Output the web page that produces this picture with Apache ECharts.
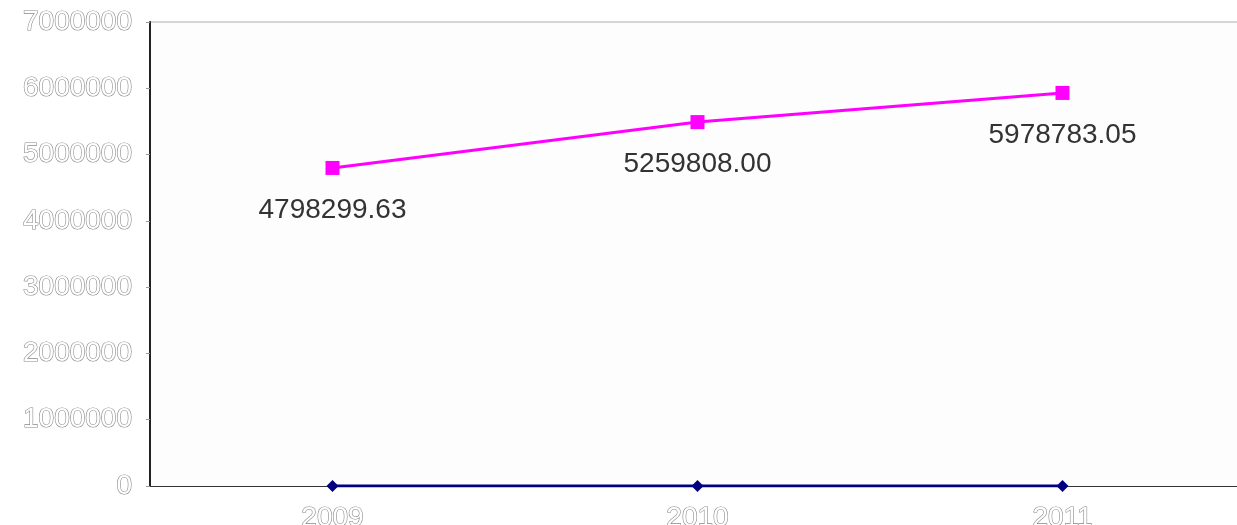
<!DOCTYPE html>
<html><head><meta charset="utf-8">
<script src="https://cdn.jsdelivr.net/npm/echarts@6/dist/echarts.min.js"></script>
<style>html,body{margin:0;padding:0;background:#fff}#c{width:1237px;height:525px}</style>
</head><body><div id="c"></div>
<script>
const categories = ['2009', '2010', '2011'];
const pinkValues = [4798299.63, 5490000, 5930000];
const pinkLabels = ['4798299.63', '5259808.00', '5978783.05'];
const blueValues = [0, 0, 0];
const yTicks = [0, 1000000, 2000000, 3000000, 4000000, 5000000, 6000000, 7000000];

const chart = echarts.init(document.getElementById('c'));
const outlined = {color: '#fff', textBorderColor: '#8a8a8a', textBorderWidth: 1.2, fontFamily: 'Liberation Sans', fontSize: 28};
chart.setOption({
  animation: false,
  backgroundColor: '#fff',
  grid: {left: 150, top: 22, bottom: 39, width: 1095, outerBoundsMode: 'none', containLabel: false, show: true, backgroundColor: '#fdfdfd', borderWidth: 0},
  xAxis: {
    type: 'category', data: categories, boundaryGap: true,
    axisLine: {lineStyle: {color: '#333', width: 1}},
    axisTick: {show: false},
    axisLabel: Object.assign({margin: 18}, outlined)
  },
  yAxis: {
    type: 'value', min: yTicks[0], max: yTicks[yTicks.length - 1], interval: 1000000,
    axisLine: {show: true, lineStyle: {color: '#222', width: 2}},
    axisTick: {show: true, length: 4, lineStyle: {color: '#999'}},
    splitLine: {show: false},
    axisLabel: Object.assign({margin: 18, formatter: v => String(v)}, outlined)
  },
  series: [
    {
      type: 'line', data: pinkValues, symbol: 'rect', symbolSize: 14,
      lineStyle: {color: '#ff00ff', width: 3}, itemStyle: {color: '#ff00ff'},
      label: {show: true, position: 'bottom', distance: 21,
        formatter: p => pinkLabels[p.dataIndex],
        color: '#333', fontFamily: 'Liberation Sans', fontSize: 28, textBorderColor: '#fff', textBorderWidth: 0}
    },
    {
      type: 'line', data: blueValues, symbol: 'diamond', symbolSize: 12,
      lineStyle: {color: '#000080', width: 3}, itemStyle: {color: '#000080'}
    }
  ],
  graphic: [{type: 'line', shape: {x1: 150, y1: 22, x2: 1237, y2: 22}, style: {stroke: '#c8c8c8', lineWidth: 1.5}}]
});
</script></body></html>
